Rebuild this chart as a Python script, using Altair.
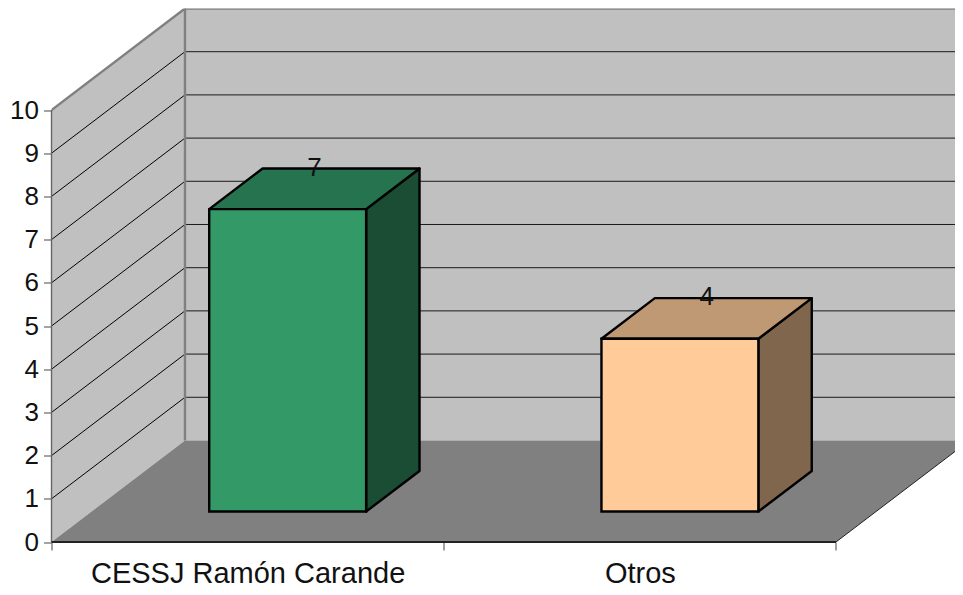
import altair as alt
import pandas as pd

categories = ["CESSJ Ramón Carande", "Otros"]
values = [7, 4]
front_colors = ["#339966", "#FFCC99"]
top_colors = ["#267350", "#BF9973"]
side_colors = ["#1A4D33", "#80664D"]
y_ticks = list(range(11))
x_bounds = [0, 1, 2]

# oblique projection: one unit of depth shifts by DX categories and DY value units
DX = 0.3403
DY = 2.35
XMAX = 2.3034
YMAX = 12.35
B0, B1 = 0.3, 0.7   # bar extent within category and depth
FONT = "Liberation Sans"

xs = alt.Scale(domain=[0, XMAX], nice=False, zero=False)
ys = alt.Scale(domain=[0, YMAX], nice=False, zero=False)
X = lambda f="x", **k: alt.X(f"{f}:Q", scale=xs, title=None, **k)
Y = lambda f="y", **k: alt.Y(f"{f}:Q", scale=ys, title=None, **k)

n = len(categories)
front, top, side, labels = [], [], [], []
for i in range(n):
    v = values[i]
    xl = i + B0 + B0 * DX
    xr = i + B1 + B0 * DX
    yb = B0 * DY
    yt = v + B0 * DY
    sx, sy = (B1 - B0) * DX, (B1 - B0) * DY
    front.append(dict(x=xl, x2=xr, y=yb, y2=yt, c=front_colors[i]))
    for yy, a, b in [(yt, xl, xr), (yt + sy, xl + sx, xr + sx)]:
        top.append(dict(y=yy, x=a, x2=b, c=top_colors[i]))
    for xx, a, b in [(xr, yb, yt), (xr + sx, yb + sy, yt + sy)]:
        side.append(dict(x=xx, y=a, y2=b, c=side_colors[i]))
    labels.append(dict(x=i + 0.5 + 0.5 * DX, y=v + 0.5 * DY, t=str(v)))

back = alt.Chart(pd.DataFrame([dict(x=DX, x2=XMAX, y=DY, y2=YMAX)])).mark_rect(
    color="#C0C0C0", clip=True).encode(X(), alt.X2("x2:Q"), Y(), alt.Y2("y2:Q"))

left = alt.Chart(pd.DataFrame([dict(x=0, y=0, y2=10), dict(x=DX, y=DY, y2=10 + DY)])).mark_area(
    color="#C0C0C0").encode(X(stack=False), Y(stack=False), alt.Y2("y2:Q"))

floor = alt.Chart(pd.DataFrame([dict(y=0, x=0, x2=2), dict(y=DY, x=DX, x2=2 + DX)])).mark_area(
    color="#808080", orient="horizontal", clip=True
).encode(X(stack=False), alt.X2("x2:Q"), Y(stack=False))

floor_edge = alt.Chart(pd.DataFrame([dict(x=2, y=0), dict(x=2 + DX, y=DY)])).mark_line(
    color="#222222", strokeWidth=1, clip=True).encode(X(), Y())

grid_back = alt.Chart(pd.DataFrame([dict(y=v + DY, x=DX, x2=XMAX) for v in y_ticks[1:-1]])).mark_rule(
    color="#1A1A1A", strokeWidth=1, clip=True).encode(X(), alt.X2("x2:Q"), Y())

grid_rows = []
for v in y_ticks[1:-1]:
    grid_rows += [dict(k=v, x=0, y=v), dict(k=v, x=DX, y=v + DY)]
grid_left = alt.Chart(pd.DataFrame(grid_rows)).mark_line(color="#000000", strokeWidth=1).encode(
    X(), Y(), detail="k:N")

edge_rows = [dict(k="a", x=0, y=10), dict(k="a", x=DX, y=10 + DY),
             dict(k="b", x=DX, y=10 + DY), dict(k="b", x=XMAX, y=10 + DY),
             dict(k="c", x=DX, y=DY), dict(k="c", x=DX, y=10 + DY)]
edges = alt.Chart(pd.DataFrame(edge_rows)).mark_line(color="#808080", strokeWidth=2.4, clip=True).encode(
    X(), Y(), detail="k:N")

sw = 2.4
front_m = alt.Chart(pd.DataFrame(front)).mark_rect(stroke="black", strokeWidth=sw).encode(
    X(), alt.X2("x2:Q"), Y(), alt.Y2("y2:Q"), color=alt.Color("c:N", scale=None))
top_m = alt.Chart(pd.DataFrame(top)).mark_area(orient="horizontal", stroke="black", strokeWidth=sw, strokeJoin="round").encode(
    X(stack=False), alt.X2("x2:Q"), Y(stack=False), color=alt.Color("c:N", scale=None))
side_m = alt.Chart(pd.DataFrame(side)).mark_area(stroke="black", strokeWidth=sw, strokeJoin="round").encode(
    X(stack=False), Y(stack=False), alt.Y2("y2:Q"), color=alt.Color("c:N", scale=None))

text_m = alt.Chart(pd.DataFrame(labels)).mark_text(
    font=FONT, fontSize=26, color="#111111", dy=-21).encode(X(), Y(), text="t:N")

# axis lines stop at 10 and at the last category
y_line = alt.Chart(pd.DataFrame([dict(x=0, y=0, y2=10)])).mark_rule(color="#666666", strokeWidth=1.4).encode(
    X(), Y(), alt.Y2("y2:Q"))
x_line = alt.Chart(pd.DataFrame([dict(y=0, x=0, x2=2)])).mark_rule(color="#222222", strokeWidth=2).encode(
    X(), alt.X2("x2:Q"), Y())

label_expr = " : ".join(f"datum.value == {i + 0.5} ? '{c}'" for i, c in enumerate(categories)) + " : ''"
x_axis = alt.Axis(values=[0, 0.5, 1, 1.5, 2], labelExpr=label_expr, domain=False, grid=False,
                  tickColor="#666666", tickSize=8, tickWidth=1.2,
                  tickOpacity={"condition": {"test": "datum.value % 1 != 0", "value": 0}, "value": 1},
                  labelFont=FONT, labelFontSize=29, labelColor="#111111", labelPadding=9, labelFlush=False,
                  labelOverlap=False, labelAngle=0, labelLimit=500)
y_axis = alt.Axis(values=y_ticks, domain=False, grid=False, tickColor="#666666", tickSize=8, tickWidth=1.2,
                  labelFont=FONT, labelFontSize=26, labelColor="#111111", labelPadding=5)

axes = alt.Chart(pd.DataFrame([dict(x=0, y=0)])).mark_point(opacity=0).encode(
    alt.X("x:Q", scale=xs, title=None, axis=x_axis),
    alt.Y("y:Q", scale=ys, title=None, axis=y_axis))

chart = alt.layer(axes, back, left, floor, floor_edge, grid_back, grid_left, edges, y_line, x_line,
                  side_m, top_m, front_m, text_m).properties(
    width=903.5, height=533.5,
    autosize=alt.AutoSizeParams(type="none"),
    padding={"left": 43.5, "top": 0.5, "right": 0, "bottom": 47},
    background="white",
).configure_view(stroke=None)

chart.save("out.html", embed_options={"renderer": "svg", "actions": False})
